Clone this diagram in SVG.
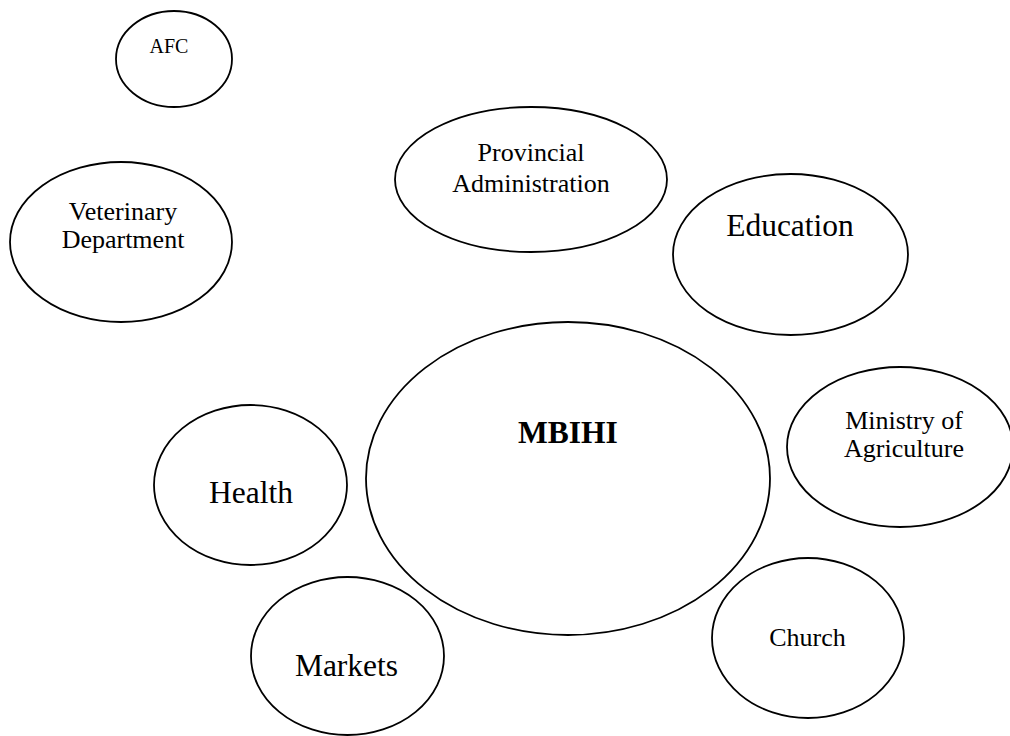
<svg xmlns="http://www.w3.org/2000/svg" width="1010" height="736" viewBox="0 0 1010 736">
<style>
.n{fill:#fff;stroke:#000;stroke-width:1.8}
.t{font-family:"Liberation Serif","Times New Roman",serif;fill:#000;text-anchor:middle}
</style>
<rect width="1010" height="736" fill="#fff"/>
<g id="connectors"></g>
<g id="afc"><ellipse class="n" cx="174" cy="59" rx="58" ry="48"/><text class="t" x="169" y="53" font-size="20">AFC</text></g>
<g id="veterinary"><ellipse class="n" cx="121" cy="242" rx="111" ry="80"/><text class="t" x="123" y="220" font-size="26">Veterinary</text><text class="t" x="123" y="248" font-size="26">Department</text></g>
<g id="provincial"><ellipse class="n" cx="531" cy="179.5" rx="136" ry="72.5"/><text class="t" x="531" y="161" font-size="26">Provincial</text><text class="t" x="531" y="192" font-size="26">Administration</text></g>
<g id="education"><ellipse class="n" cx="790.5" cy="254.5" rx="117.5" ry="80.5"/><text class="t" x="790" y="236" font-size="31.5">Education</text></g>
<g id="mbihi"><ellipse class="n" cx="568" cy="478.5" rx="202" ry="156.5"/><text class="t" x="568" y="443" font-size="31.5" font-weight="bold">MBIHI</text></g>
<g id="agriculture"><ellipse class="n" cx="900" cy="447" rx="113" ry="80"/><text class="t" x="904" y="429" font-size="26">Ministry of</text><text class="t" x="904" y="457" font-size="26">Agriculture</text></g>
<g id="health"><ellipse class="n" cx="250.5" cy="485" rx="96.5" ry="80"/><text class="t" x="251" y="503" font-size="31.5">Health</text></g>
<g id="markets"><ellipse class="n" cx="347.5" cy="656" rx="96.5" ry="79"/><text class="t" x="346.5" y="676" font-size="31.5">Markets</text></g>
<g id="church"><ellipse class="n" cx="808" cy="638" rx="96" ry="80"/><text class="t" x="807.5" y="646" font-size="26">Church</text></g>
</svg>
